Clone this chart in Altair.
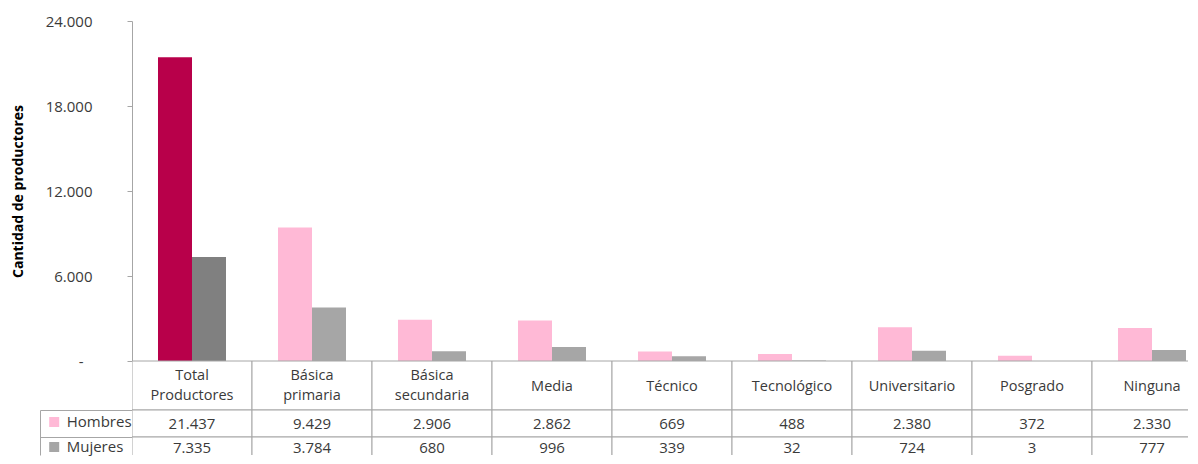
import altair as alt
import pandas as pd

categories = ["Total Productores", "Básica primaria", "Básica secundaria", "Media",
              "Técnico", "Tecnológico", "Universitario", "Posgrado", "Ninguna"]
hombres = [21437, 9429, 2906, 2862, 669, 488, 2380, 372, 2330]
mujeres = [7335, 3784, 680, 996, 339, 32, 724, 3, 777]
series = ["Hombres", "Mujeres"]
y_ticks = [0, 6000, 12000, 18000, 24000]

rows = []
for i, c in enumerate(categories):
    for j, (s, vals) in enumerate(zip(series, [hombres, mujeres])):
        v = vals[i]
        key = ("Total " + s) if i == 0 else s
        rows.append({"cat": c, "serie": s, "valor": v, "clave": key,
                     "texto": f"{v:,}".replace(",", "."),
                     "fila": j, "fila_fin": j + 1})
df = pd.DataFrame(rows)
df_cat = pd.DataFrame({"cat": categories, "r0": 0, "r1": 1})

FONT = "Open Sans"
GRID = "#a6a6a6"
TXT = "#3a3a3a"

color_domain = ["Hombres", "Mujeres", "Total Hombres", "Total Mujeres"]
color_range = ["#ffb9d6", "#a6a6a6", "#b8004a", "#808080"]

PLOT_W = 1056          # visible part of the plot (cut at the window edge)
X_RANGE = [0, 1080]    # 9 bands of 120 px
H = 434                # plot + visible part of the table

x_enc = alt.X("cat:N", sort=categories, title=None, axis=None,
              scale=alt.Scale(paddingInner=0, paddingOuter=0, range=X_RANGE))

s_bar = alt.Scale(domain=[0, 24000], nice=False, range=[340, 0])
s_cat = alt.Scale(domain=[0, 1], nice=False, zero=False, range=[340, 389])
s_row = alt.Scale(domain=[0, 1], nice=False, zero=False, range=[389, 416])
s_txt = alt.Scale(domain=[0, 1], nice=False, zero=False, range=[402.5, 426.5])
s_frame = alt.Scale(domain=[0, 1], nice=False, zero=False, range=[389, H])

bars = alt.Chart(df).mark_bar(clip=True).encode(
    x=x_enc,
    xOffset=alt.XOffset("serie:N", sort=series,
                        scale=alt.Scale(paddingInner=0, paddingOuter=0.7647)),
    y=alt.Y("valor:Q", scale=s_bar,
            axis=alt.Axis(orient="left", values=y_ticks, grid=False,
                          tickSize=5, tickColor=GRID, domainColor=GRID,
                          labelPadding={"condition": {"test": "datum.value == 0", "value": 44},
                                        "value": 35},
                          labelFontSize=15, labelColor=TXT, labelFont=FONT,
                          labelExpr="datum.value == 0 ? '-' : replace(format(datum.value, ','), ',', '.')",
                          title="Cantidad de productores", titleFontSize=14,
                          titleFontWeight="bold", titleColor="#000000",
                          titleFont=FONT, titlePadding=20)),
    color=alt.Color("clave:N",
                    scale=alt.Scale(domain=color_domain, range=color_range),
                    legend=alt.Legend(values=series, orient="none", legendX=-85.3,
                                      legendY=393.5, title=None, symbolType="square",
                                      symbolSize=100, symbolStrokeWidth=0,
                                      labelFontSize=15, labelFont=FONT,
                                      labelColor=TXT, labelOffset=5, rowPadding=9,
                                      padding=0, direction="vertical")),
)

# category row of the table
cat_cells = alt.Chart(df_cat).mark_rect(fill="white", stroke=GRID, strokeWidth=1,
                                        clip=True).encode(
    x=x_enc,
    y=alt.Y("r0:Q", scale=s_cat, axis=None),
    y2="r1:Q",
)
cat_one = alt.Chart(df_cat).transform_filter("indexof(datum.cat, ' ') < 0").mark_text(
    font=FONT, fontSize=14.5, color=TXT, baseline="middle", dy=26, clip=True).encode(
    x=x_enc, y=alt.Y("r0:Q", scale=s_cat, axis=None), text="cat:N")
cat_two = alt.Chart(df_cat).transform_filter("indexof(datum.cat, ' ') >= 0").mark_text(
    font=FONT, fontSize=14.5, color=TXT, baseline="middle", dy=14.7, lineBreak=" ",
    lineHeight=20.6, clip=True).encode(
    x=x_enc, y=alt.Y("r0:Q", scale=s_cat, axis=None), text="cat:N")

# value rows of the table
val_cells = alt.Chart(df).mark_rect(fill="white", stroke=GRID, strokeWidth=1,
                                    clip=True).encode(
    x=x_enc,
    y=alt.Y("fila:Q", scale=s_row,
            axis=alt.Axis(orient="left", values=[0, 1], tickSize=92, grid=False,
                          tickColor=GRID, domain=False, labels=False, title=None)),
    y2="fila_fin:Q",
)
val_text = alt.Chart(df).mark_text(font=FONT, fontSize=15, color=TXT, baseline="middle",
                                   clip=True).encode(
    x=x_enc, y=alt.Y("fila:Q", scale=s_txt, axis=None), text="texto:N")

frame = alt.Chart(df_cat).mark_rect(opacity=0, clip=True).encode(
    x=x_enc,
    y=alt.Y("r0:Q", scale=s_frame,
            axis=alt.Axis(orient="left", offset=92, ticks=False, labels=False,
                          grid=False, domainColor=GRID, title=None)),
    y2="r1:Q",
)

chart = alt.layer(bars, cat_cells, cat_one, cat_two, val_cells, val_text, frame).resolve_scale(
    y="independent"
).properties(
    width=PLOT_W, height=H,
    padding={"left": 3, "top": 6, "right": 0, "bottom": 0},
).configure(font=FONT).configure_view(strokeWidth=0)

chart.save("out.html", embed_options={"renderer": "svg", "actions": False})
